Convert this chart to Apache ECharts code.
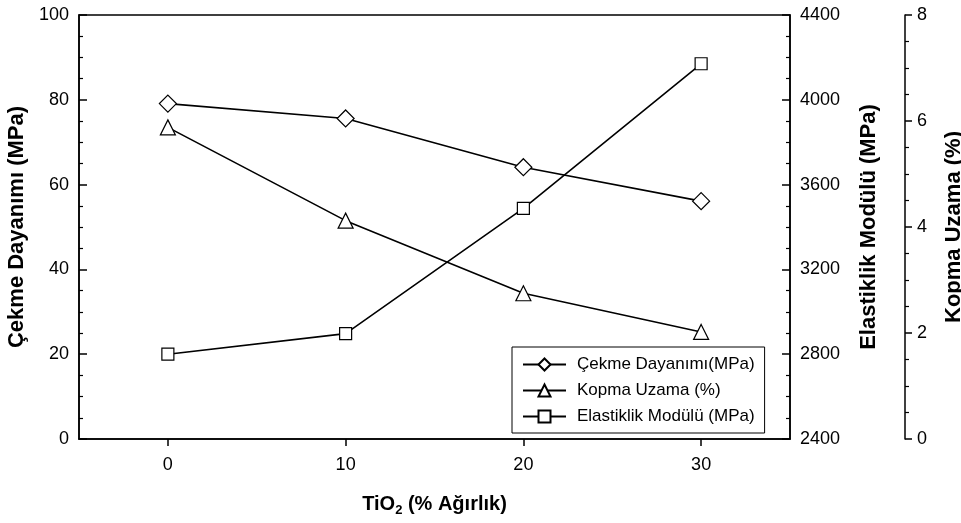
<!DOCTYPE html>
<html>
<head>
<meta charset="utf-8">
<script src="https://cdn.jsdelivr.net/npm/echarts@6/dist/echarts.min.js"></script>
<style>html,body{margin:0;padding:0;background:#fff}#c{width:961px;height:523px}</style>
</head>
<body>
<div id="c"></div>
<script>
var xValues = [0, 10, 20, 30];
var xTicks = [0, 10, 20, 30];
var cekme = [79.1, 75.6, 64.1, 56.1];
var kopma = [5.88, 4.12, 2.75, 2.02];
var elastik = [2800, 2897, 3488, 4170];
var seriesNames = ['Çekme Dayanımı(MPa)', 'Kopma Uzama (%)', 'Elastiklik Modülü (MPa)'];
var axisTitles = ['Çekme Dayanımı (MPa)', 'Elastiklik Modülü (MPa)', 'Kopma Uzama (%)'];

function pairs(v) { return xValues.map(function (x, i) { return [x, v[i]]; }); }

var FONT = 'Liberation Sans, Arial, sans-serif';
var chart = echarts.init(document.getElementById('c'));
var axisLine = { show: true, onZero: false, lineStyle: { color: '#000', width: 1.5 } };
var fmt = function (v) { return String(v); };
var lbl = { color: '#000', fontSize: 18, fontFamily: FONT, formatter: fmt };
var nameStyle = { color: '#000', fontSize: 22, fontWeight: 'bold', fontFamily: FONT };

function mk(name, data, yIdx, symbol, size) {
  return {
    name: name, type: 'line', data: pairs(data), yAxisIndex: yIdx,
    symbol: symbol, symbolSize: size, showAllSymbol: true,
    lineStyle: { color: '#000', width: 1.6 },
    itemStyle: { color: '#fff', borderColor: '#000', borderWidth: 1.2 },
    emphasis: { disabled: true }, animation: false
  };
}

chart.setOption({
  animation: false,
  backgroundColor: '#fff',
  grid: { left: 79, right: 171, top: 15, bottom: 84, show: true, borderColor: '#000', borderWidth: 1.5, backgroundColor: 'transparent', containLabel: false, outerBoundsMode: 'none' },
  legend: {
    orient: 'vertical', left: 512, top: 347,
    backgroundColor: '#fff', borderColor: '#000', borderWidth: 1,
    padding: [9, 10, 8, 10],
    itemWidth: 43, itemHeight: 15, itemGap: 9,
    textStyle: { color: '#000', fontSize: 17, fontFamily: FONT, padding: [0, 0, 0, 6] },
    data: seriesNames
  },
  xAxis: {
    type: 'value', min: -5, max: 35,
    axisLine: axisLine,
    axisTick: { show: true, inside: false, length: 7, lineStyle: { color: '#000', width: 1.5 }, customValues: xTicks },
    axisLabel: Object.assign({ margin: 17, customValues: xTicks }, lbl),
    splitLine: { show: false },
    name: '{a|TiO}{s|2}{a| (% Ağırlık)}',
    nameLocation: 'middle', nameGap: 53,
    nameTextStyle: {
      rich: {
        a: { fontSize: 20, fontWeight: 'bold', color: '#000', fontFamily: FONT },
        s: { fontSize: 13, fontWeight: 'bold', color: '#000', fontFamily: FONT, verticalAlign: 'bottom', padding: [12, 0, 0, 0] }
      }
    }
  },
  yAxis: [
    {
      type: 'value', min: 0, max: 100, interval: 20, position: 'left',
      axisLine: axisLine,
      axisTick: { show: true, inside: true, length: 8, lineStyle: { color: '#000', width: 1.5 } },
      minorTick: { show: true, splitNumber: 4, length: 4, lineStyle: { color: '#000', width: 1.2 } },
      axisLabel: Object.assign({ margin: 10 }, lbl),
      splitLine: { show: false },
      name: axisTitles[0], nameLocation: 'middle', nameGap: 40, nameRotate: 90,
      nameTextStyle: nameStyle
    },
    {
      type: 'value', min: 2400, max: 4400, interval: 400, position: 'right',
      axisLine: axisLine,
      axisTick: { show: true, inside: true, length: 8, lineStyle: { color: '#000', width: 1.5 } },
      minorTick: { show: true, splitNumber: 4, length: 4, lineStyle: { color: '#000', width: 1.2 } },
      axisLabel: Object.assign({ margin: 10 }, lbl),
      splitLine: { show: false },
      name: axisTitles[1], nameLocation: 'middle', nameGap: 68, nameRotate: 90,
      nameTextStyle: nameStyle
    },
    {
      type: 'value', min: 0, max: 8, interval: 2, position: 'right', offset: 115,
      axisLine: axisLine,
      axisTick: { show: true, inside: false, length: 7, lineStyle: { color: '#000', width: 1.5 } },
      minorTick: { show: true, splitNumber: 4, length: 4, lineStyle: { color: '#000', width: 1.2 } },
      axisLabel: Object.assign({ margin: 12 }, lbl),
      splitLine: { show: false },
      name: axisTitles[2], nameLocation: 'middle', nameGap: 38, nameRotate: 90,
      nameTextStyle: nameStyle
    }
  ],
  series: [
    mk(seriesNames[0], cekme, 0, 'diamond', 17),
    mk(seriesNames[1], kopma, 2, 'triangle', 15),
    mk(seriesNames[2], elastik, 1, 'rect', 12)
  ]
});
</script>
</body>
</html>
